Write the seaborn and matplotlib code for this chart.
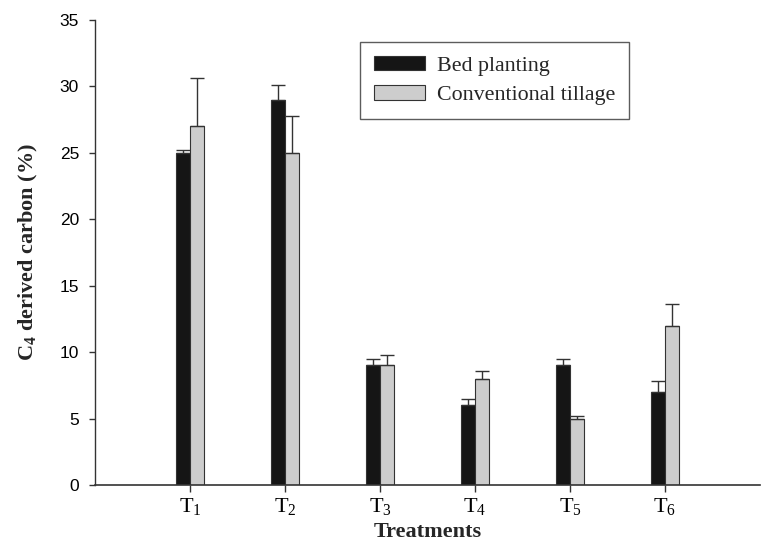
import matplotlib
matplotlib.use("Agg")
import matplotlib.pyplot as plt
import seaborn as sns
import pandas as pd
import numpy as np

treatments = ["T$_1$", "T$_2$", "T$_3$", "T$_4$", "T$_5$", "T$_6$"]
bed_planting = [25, 29, 9, 6, 9, 7]
bed_err = [0.2, 1.1, 0.5, 0.5, 0.5, 0.8]
conventional = [27, 25, 9, 8, 5, 12]
conv_err = [3.6, 2.8, 0.8, 0.6, 0.2, 1.6]
series_names = ["Bed planting", "Conventional tillage"]

df = pd.DataFrame({
    "Treatment": treatments * 2,
    "Value": bed_planting + conventional,
    "Err": bed_err + conv_err,
    "System": [series_names[0]] * 6 + [series_names[1]] * 6,
})

sns.set_style("ticks")
plt.rcParams["mathtext.fontset"] = "custom"
plt.rcParams["mathtext.rm"] = "Liberation Serif"
plt.rcParams["mathtext.it"] = "Liberation Serif:italic"
plt.rcParams["mathtext.bf"] = "Liberation Serif:bold"
plt.rcParams["mathtext.default"] = "regular"

fig = plt.figure(figsize=(7.61, 5.42), dpi=100)
ax = fig.add_axes([95 / 761, 57 / 542, 665 / 761, 465 / 542])

sns.barplot(data=df, x="Treatment", y="Value", hue="System",
            palette={series_names[0]: "#151515", series_names[1]: "#cdcdcd"},
            width=0.3, errorbar=None, edgecolor="#333333", linewidth=0.8,
            saturation=1, ax=ax)

# error bars (upper only) at bar centers
for cont, errs in zip(ax.containers, [bed_err, conv_err]):
    xs = [p.get_x() + p.get_width() / 2 for p in cont.patches]
    hs = [p.get_height() for p in cont.patches]
    ax.errorbar(xs, hs, yerr=[np.zeros(len(errs)), errs], fmt="none",
                ecolor="#333333", elinewidth=1.0, capsize=4.7, capthick=1.0)

ax.set_xlim(-1, 6)
ax.set_ylim(0, 35)
for s in ["top", "right"]:
    ax.spines[s].set_visible(False)
ax.spines["left"].set_color("#333333")
ax.spines["bottom"].set_color("#333333")
ax.spines["left"].set_linewidth(1.0)
ax.spines["bottom"].set_linewidth(1.2)
ax.tick_params(axis="y", direction="out", length=4.5, width=1, colors="#333333",
               labelcolor="black", labelsize=12.5, pad=7)
ax.tick_params(axis="x", direction="out", length=5, width=1, colors="#333333",
               labelcolor="black", pad=3)
ax.set_yticks(range(0, 36, 5))
ax.set_yticklabels([str(v) for v in range(0, 36, 5)], family="Liberation Sans",
                   fontsize=12.5)
ax.set_xticks(range(6))
ax.set_xticklabels(treatments, family="Liberation Serif", fontsize=16)

ax.set_xlabel("Treatments", family="Liberation Serif", fontweight="bold",
              fontsize=16, labelpad=3.5)
ax.set_ylabel(r"C$_\mathbf{4}$ derived carbon (%)", family="Liberation Serif",
              fontweight="bold", fontsize=16, labelpad=14)

leg = ax.legend(loc="upper left",
                bbox_to_anchor=((360 - 95) / 665, (542 - 42 - 57) / 465),
                frameon=True, fancybox=False, edgecolor="#333333",
                prop={"family": "Liberation Serif", "size": 15.8},
                handlelength=2.3, handleheight=0.62, borderpad=0.65,
                labelspacing=0.42, handletextpad=0.55, borderaxespad=0)
leg.get_frame().set_linewidth(1.0)

fig.savefig("out.png", dpi=100)
